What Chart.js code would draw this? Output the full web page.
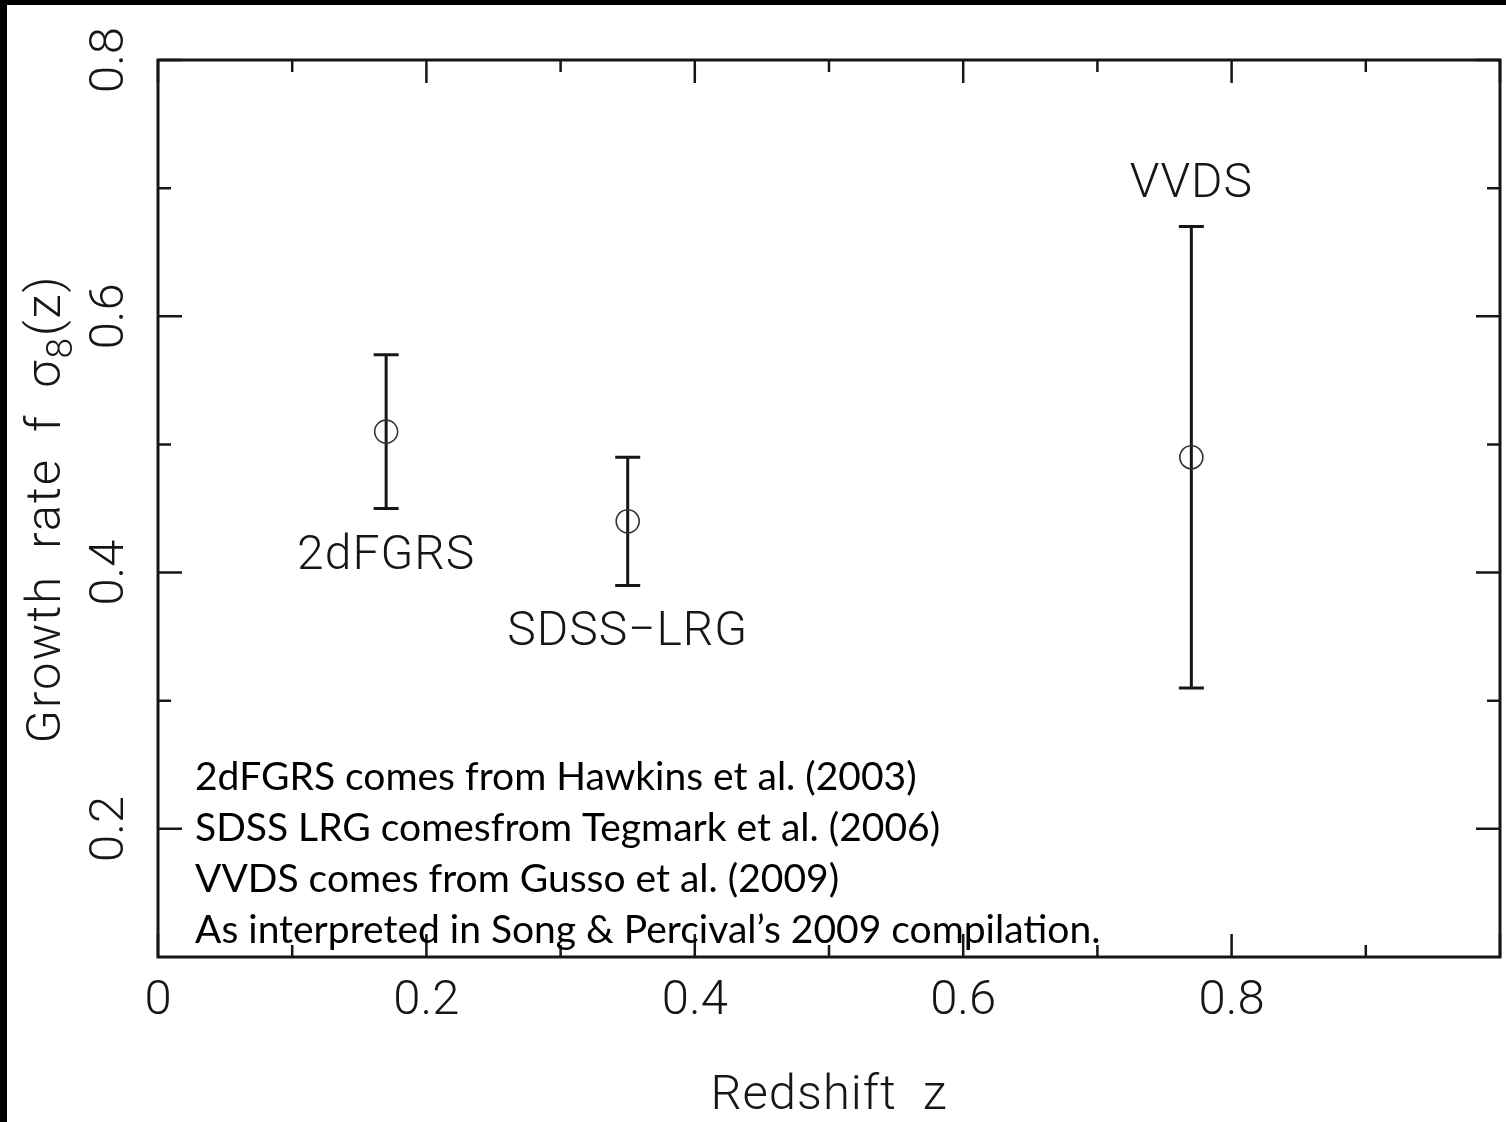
<!DOCTYPE html>
<html>
<head>
<meta charset="utf-8">
<title>Growth rate measurements</title>
<script src="https://cdn.jsdelivr.net/npm/chart.js@4.4.1/dist/chart.umd.min.js"></script>
<style>
  html, body { margin: 0; padding: 0; background: #fff; }
  #wrap { width: 1506px; height: 1122px; position: relative; }
</style>
</head>
<body>
<div id="wrap"><canvas id="c" width="1506" height="1122"></canvas></div>
<script>
// Growth-rate measurements f*sigma8(z) with symmetric 1-sigma errors
const surveys   = ['2dFGRS', 'SDSS\u2212LRG', 'VVDS'];
const redshift  = [0.17, 0.35, 0.77];
const growth    = [0.51, 0.44, 0.49];
const errLow    = [0.06, 0.05, 0.18];
const errHigh   = [0.06, 0.05, 0.18];

// Axis ticks
const xMajorTicks = [0, 0.2, 0.4, 0.6, 0.8, 1.0];
const xMinorTicks = [0.1, 0.3, 0.5, 0.7, 0.9];
const xTickLabels = ['0', '0.2', '0.4', '0.6', '0.8', ''];
const yMajorTicks = [0.2, 0.4, 0.6, 0.8];
const yMinorTicks = [0.3, 0.5, 0.7];
const yTickLabels = ['0.2', '0.4', '0.6', '0.8'];

const xTitle = 'Redshift  z';
const yTitleParts = ['Growth rate f \u03c3', '8', '(z)'];

const notes = [
  '2dFGRS comes from Hawkins et al. (2003)',
  'SDSS LRG comesfrom Tegmark et al. (2006)',
  'VVDS comes from Gusso et al. (2009)',
  'As interpreted in Song & Percival\u2019s 2009 compilation.'
];

const INK = '#161616';
const PLOT_FONT = "Roboto, 'Liberation Sans', Arial, sans-serif";
const NOTE_FONT = "Lato, 'Open Sans', sans-serif";

const decor = {
  id: 'decor',
  beforeDraw(chart) {
    const ctx = chart.ctx;
    ctx.save();
    ctx.fillStyle = '#fff';
    ctx.fillRect(0, 0, chart.width, chart.height);
    ctx.fillStyle = '#000';
    ctx.fillRect(0, 0, chart.width, 5);
    ctx.fillRect(0, 0, 7, chart.height);
    ctx.restore();
  },
  beforeDatasetsDraw(chart) {
    const ctx = chart.ctx;
    const xs = chart.scales.x, ys = chart.scales.y;
    ctx.save();
    ctx.strokeStyle = INK;
    ctx.lineWidth = 3;
    ctx.lineCap = 'butt';
    redshift.forEach((z, i) => {
      const px = xs.getPixelForValue(z);
      const top = ys.getPixelForValue(growth[i] + errHigh[i]);
      const bot = ys.getPixelForValue(growth[i] - errLow[i]);
      ctx.beginPath();
      ctx.moveTo(px, top); ctx.lineTo(px, bot);
      ctx.moveTo(px - 12.5, top); ctx.lineTo(px + 12.5, top);
      ctx.moveTo(px - 12.5, bot); ctx.lineTo(px + 12.5, bot);
      ctx.stroke();
    });
    ctx.restore();
  },
  afterDatasetsDraw(chart) {
    const ctx = chart.ctx;
    const a = chart.chartArea;
    const xs = chart.scales.x, ys = chart.scales.y;
    ctx.save();

    // frame
    ctx.strokeStyle = INK;
    ctx.lineWidth = 3;
    ctx.strokeRect(a.left, a.top, a.right - a.left, a.bottom - a.top);

    // inward tick marks on all four sides
    ctx.lineWidth = 2.5;
    ctx.beginPath();
    const xTick = (v, len) => {
      const p = xs.getPixelForValue(v);
      ctx.moveTo(p, a.bottom); ctx.lineTo(p, a.bottom - len);
      ctx.moveTo(p, a.top); ctx.lineTo(p, a.top + len);
    };
    const yTick = (v, len) => {
      const p = ys.getPixelForValue(v);
      ctx.moveTo(a.left, p); ctx.lineTo(a.left + len, p);
      ctx.moveTo(a.right, p); ctx.lineTo(a.right - len, p);
    };
    xMajorTicks.forEach(v => xTick(v, 23));
    xMinorTicks.forEach(v => xTick(v, 12));
    yMajorTicks.forEach(v => yTick(v, 24));
    yMinorTicks.forEach(v => yTick(v, 13));
    ctx.stroke();

    ctx.fillStyle = INK;
    // x tick labels
    ctx.font = `300 49px ${PLOT_FONT}`;
    ctx.textAlign = 'center';
    ctx.textBaseline = 'middle';
    xMajorTicks.forEach((v, i) => {
      if (xTickLabels[i]) ctx.fillText(xTickLabels[i], xs.getPixelForValue(v), a.bottom + 45);
    });
    // y tick labels, rotated
    yMajorTicks.forEach((v, i) => {
      ctx.save();
      ctx.translate(111, ys.getPixelForValue(v));
      ctx.rotate(-Math.PI / 2);
      ctx.fillText(yTickLabels[i], 0, 0);
      ctx.restore();
    });

    // x title
    ctx.font = `300 49px ${PLOT_FONT}`;
    ctx.save();
    ctx.letterSpacing = '1px';
    ctx.fillText(xTitle, (a.left + a.right) / 2, a.bottom + 140);
    ctx.restore();

    // y title with subscript
    ctx.save();
    ctx.textAlign = 'left';
    ctx.textBaseline = 'alphabetic';
    ctx.letterSpacing = '2px';
    ctx.wordSpacing = '12px';
    const mainFont = `300 49px ${PLOT_FONT}`, subFont = `300 37px ${PLOT_FONT}`;
    ctx.font = mainFont;
    const w0 = ctx.measureText(yTitleParts[0]).width;
    const w2 = ctx.measureText(yTitleParts[2]).width;
    ctx.font = subFont;
    const w1 = ctx.measureText(yTitleParts[1]).width;
    const total = w0 + w1 + w2;
    ctx.translate(60, 509);
    ctx.rotate(-Math.PI / 2);
    let cx = -total / 2;
    ctx.font = mainFont;
    ctx.fillText(yTitleParts[0], cx, 0); cx += w0;
    ctx.font = subFont;
    ctx.fillText(yTitleParts[1], cx, 12); cx += w1;
    ctx.font = mainFont;
    ctx.fillText(yTitleParts[2], cx, 0);
    ctx.restore();

    // survey names next to their error bars
    ctx.save();
    ctx.font = `300 48px ${PLOT_FONT}`;
    ctx.letterSpacing = '1px';
    ctx.textAlign = 'center';
    ctx.textBaseline = 'middle';
    redshift.forEach((z, i) => {
      const px = xs.getPixelForValue(z);
      if (i === 2) {
        ctx.fillText(surveys[i], px, ys.getPixelForValue(growth[i] + errHigh[i]) - 42);
      } else {
        ctx.fillText(surveys[i], px, ys.getPixelForValue(growth[i] - errLow[i]) + 48);
      }
    });
    ctx.restore();

    // source notes
    ctx.fillStyle = '#000';
    ctx.font = `39px ${NOTE_FONT}`;
    ctx.textAlign = 'left';
    ctx.textBaseline = 'middle';
    notes.forEach((t, i) => ctx.fillText(t, 195, 777 + i * 51));

    ctx.restore();
  }
};

new Chart(document.getElementById('c'), {
  type: 'scatter',
  data: {
    datasets: [{
      label: 'f sigma8',
      data: redshift.map((z, i) => ({ x: z, y: growth[i] })),
      pointStyle: 'circle',
      pointRadius: 11.5,
      pointHoverRadius: 11.5,
      pointBorderWidth: 1.6,
      pointBackgroundColor: 'rgba(0,0,0,0)',
      pointBorderColor: '#333',
      showLine: false
    }]
  },
  options: {
    responsive: false,
    animation: false,
    devicePixelRatio: 1,
    layout: { autoPadding: false, padding: { left: 158, top: 60, right: 6, bottom: 165 } },
    plugins: { legend: { display: false }, tooltip: { enabled: false } },
    scales: {
      x: { type: 'linear', min: 0, max: 1, display: false },
      y: { type: 'linear', min: 0.1, max: 0.8, display: false }
    }
  },
  plugins: [decor]
});
</script>
</body>
</html>
